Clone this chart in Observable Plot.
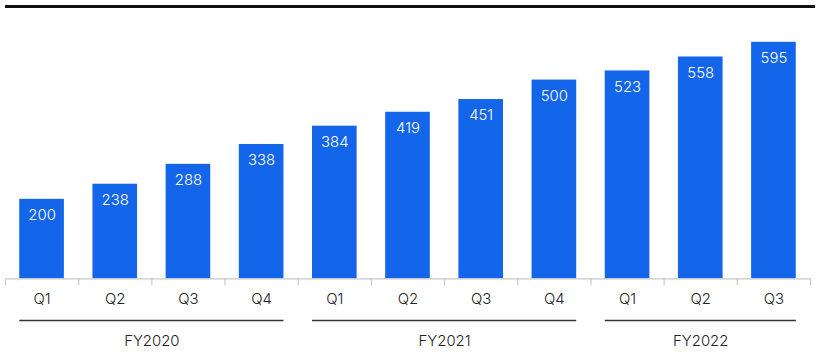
<!DOCTYPE html>
<html>
<head>
<meta charset="utf-8">
<script src="https://cdn.jsdelivr.net/npm/d3@7"></script>
<script src="https://cdn.jsdelivr.net/npm/@observablehq/plot@0.6"></script>
<style>
  html, body { margin: 0; padding: 0; background: #fff; overflow: hidden; }
  #wrap { width: 810px; margin: 5px 5px 0 5px; border-top: 3px solid #111; }
  #chart { margin-left: -5px; padding-top: 1px; }
</style>
</head>
<body>
<div id="wrap"><div id="chart"></div></div>
<script>
const quarters = ["Q1","Q2","Q3","Q4","Q1","Q2","Q3","Q4","Q1","Q2","Q3"];
const years = ["FY2020","FY2020","FY2020","FY2020","FY2021","FY2021","FY2021","FY2021","FY2022","FY2022","FY2022"];
const values = [200,238,288,338,384,419,451,500,523,558,595];

const n = values.length;
const pad = 0.195;
const data = values.map((v, i) => ({i, q: quarters[i], fy: years[i], value: v}));
const groups = d3.groups(data, d => d.fy).map(([fy, rows]) => ({
  fy, start: d3.min(rows, d => d.i), end: d3.max(rows, d => d.i) + 1
}));

const chart = Plot.plot({
  width: 820,
  height: 343,
  marginLeft: 5,
  marginRight: 5,
  marginTop: 33,
  marginBottom: 72,
  style: {fontFamily: "Inter, sans-serif", background: "#fff"},
  x: {domain: [0, n], axis: null},
  y: {domain: [0, d3.max(values)], axis: null},
  marks: [
    Plot.rectY(data, {x1: d => d.i + pad, x2: d => d.i + 1 - pad, y: "value", fill: "#1366e9"}),
    Plot.text(data, {x: d => d.i + 0.5, y: "value", text: d => String(d.value), dy: 16, fill: "#fff", fontSize: 15, fontWeight: 300}),
    Plot.ruleY([0], {stroke: "#c8c8c8", strokeWidth: 1.2}),
    Plot.axisX({ticks: d3.range(0, n + 1), tickFormat: () => "", tickSize: 7, stroke: "#c8c8c8", strokeWidth: 1.2, label: null}),
    Plot.text(data, {x: d => d.i + 0.5, y: 0, text: "q", dy: 20, fill: "#222", fontSize: 15, fontWeight: 300}),
    Plot.ruleY(groups, {y: 0, x1: d => d.start + pad, x2: d => d.end - pad, dy: 42, stroke: "#333", strokeWidth: 1.5}),
    Plot.text(groups, {x: d => (d.start + d.end) / 2, y: 0, text: "fy", dy: 63, fill: "#222", fontSize: 15, fontWeight: 300})
  ]
});
document.getElementById("chart").appendChild(chart);
</script>
</body>
</html>
